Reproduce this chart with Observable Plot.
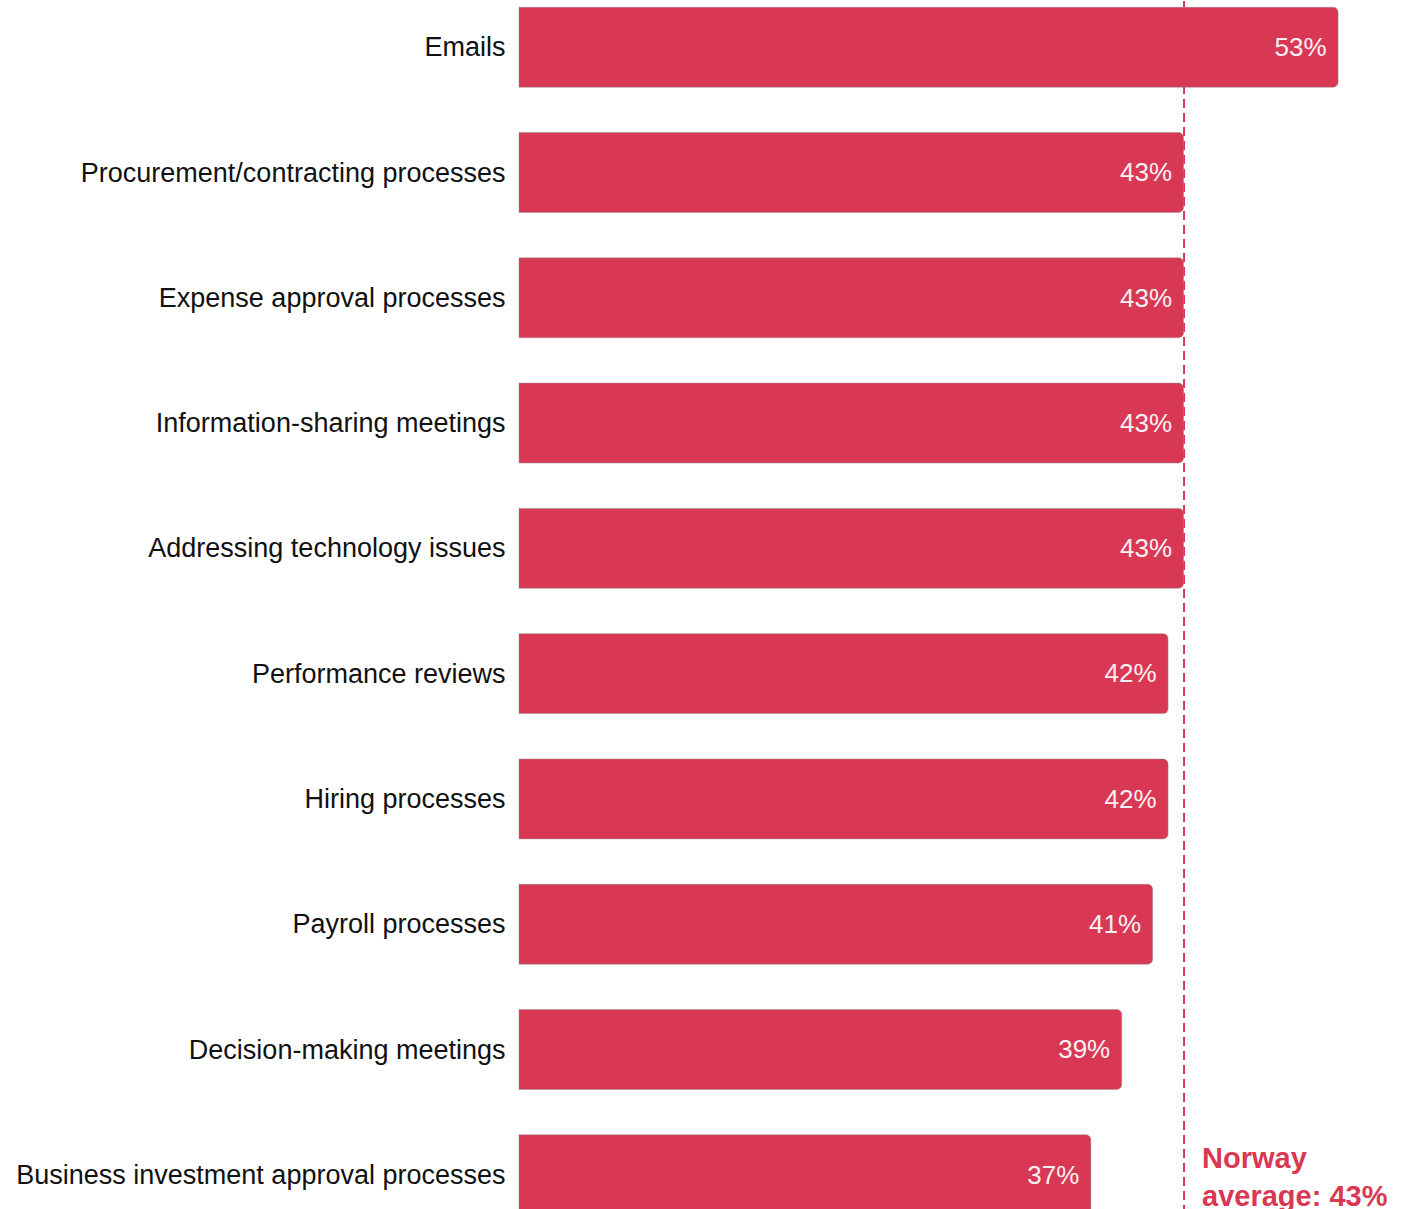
<!DOCTYPE html>
<html>
<head>
<meta charset="utf-8">
<script src="https://cdn.jsdelivr.net/npm/d3@7"></script>
<script src="https://cdn.jsdelivr.net/npm/@observablehq/plot@0.6"></script>
<style>
  html, body { margin: 0; padding: 0; background: #fff; overflow: hidden; }
  #chart svg { display: block; }
</style>
</head>
<body>
<div id="chart"></div>
<script>
const categories = [
  "Emails",
  "Procurement/contracting processes",
  "Expense approval processes",
  "Information-sharing meetings",
  "Addressing technology issues",
  "Performance reviews",
  "Hiring processes",
  "Payroll processes",
  "Decision-making meetings",
  "Business investment approval processes"
];
const values = [53, 43, 43, 43, 43, 42, 42, 41, 39, 37];
const average = 43;
const averageLabel = "Norway\naverage: 43%";

const data = categories.map((c, i) => ({category: c, value: values[i]}));
const red = "#D93855";

const chart = Plot.plot({
  width: 1403,
  height: 1221,
  marginLeft: 519,
  marginRight: 34,
  marginTop: 1,
  marginBottom: 0,
  style: {fontFamily: "Liberation Sans, Arial, sans-serif", background: "#fff"},
  x: {domain: [0, 55], axis: null},
  y: {domain: categories, paddingInner: 0.362, paddingOuter: 0.05, round: false, axis: null},
  marks: [
    Plot.ruleX([average], {x: d => d, stroke: red, strokeWidth: 2, strokeDasharray: "9,5"}),
    Plot.barX(data, {
      x: "value", y: "category", fill: red,
      stroke: "#8a8a8a", strokeOpacity: 0.45, strokeWidth: 1,
      rx2: 5
    }),
    Plot.text(data, {
      x: "value", y: "category", text: d => `${d.value}%`,
      textAnchor: "end", dx: -12, fill: "#f7f0f1", fontSize: 26
    }),
    Plot.axisY({tickSize: 0, tickPadding: 14, fontSize: 27, fill: "#111", label: null}),
    Plot.text([average], {
      x: d => d, y: () => categories[categories.length - 1],
      text: () => averageLabel, textAnchor: "start", dx: 18,
      lineHeight: 1.3, fontSize: 29, fontWeight: "bold", fill: red
    })
  ]
});
document.getElementById("chart").append(chart);
</script>
</body>
</html>
